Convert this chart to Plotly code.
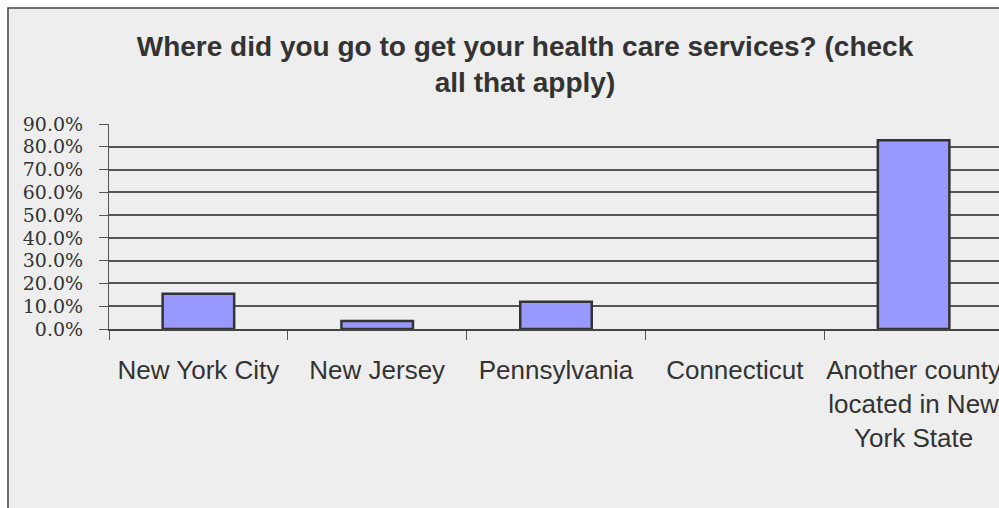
import plotly.graph_objects as go

categories = ["New York City", "New Jersey", "Pennsylvania", "Connecticut",
              "Another county<br>located in New<br>York State"]
values = [0.155, 0.035, 0.12, 0.0, 0.829]
y_ticks = [0, 0.1, 0.2, 0.3, 0.4, 0.5, 0.6, 0.7, 0.8, 0.9]

W, H = 999, 508
L, R_EDGE, T, B = 109, 1003, 124, 329
cat_w = (R_EDGE - L) / 5.0
x_max = 4.5 - (R_EDGE - W) / cat_w

line_widths = [0 if v == 0 else 2.5 for v in values]

fig = go.Figure()
fig.add_trace(go.Bar(
    x=categories, y=values, width=0.4,
    marker=dict(color="#9999ff", line=dict(color="#333333", width=line_widths)),
    hoverinfo="skip",
))

pw = W - L
fig.add_shape(type="rect", xref="paper", yref="paper",
              x0=(8 - L) / pw, x1=1.05, y0=-1.0, y1=1 + (T - 8) / (B - T),
              line=dict(color="#444444", width=1.5), fillcolor="#eeeeee",
              layer="below")

fig.update_layout(
    width=W, height=H,
    margin=dict(l=L, r=0, t=T, b=H - B, pad=0),
    paper_bgcolor="white", plot_bgcolor="rgba(0,0,0,0)",
    showlegend=False,
    title=dict(text="Where did you go to get your health care services? (check<br>all that apply)",
               x=525 / W, xanchor="center", xref="container",
               y=1 - 56 / H, yanchor="top", yref="container",
               font=dict(family="Liberation Sans", size=28, color="#333333", weight="bold")),
    xaxis=dict(type="category", range=[-0.5, x_max], tickangle=0,
               tickson="boundaries", ticks="outside", ticklen=9, tickcolor="#555555",
               tickwidth=1.2, showgrid=False, zeroline=False,
               showline=True, linecolor="#444444", linewidth=1.5,
               tickfont=dict(family="Liberation Sans", size=26, color="#333333"),
               ticklabelstandoff=17, automargin=False, fixedrange=True),
    yaxis=dict(range=[0, 0.9], tickmode="array", tickvals=y_ticks,
               tickformat=".1%", ticks="outside", ticklen=9, tickcolor="#555555",
               tickwidth=1.2, showgrid=True, gridcolor="#555555", gridwidth=1.5,
               zeroline=False, showline=True, linecolor="#555555", linewidth=1.2,
               tickfont=dict(family="DejaVu Serif", size=19, color="#333333"),
               ticklabelstandoff=12, automargin=False, fixedrange=True),
)

fig.write_html("out.html", config={"displayModeBar": False},
               post_script="document.body.style.margin='0px';")
